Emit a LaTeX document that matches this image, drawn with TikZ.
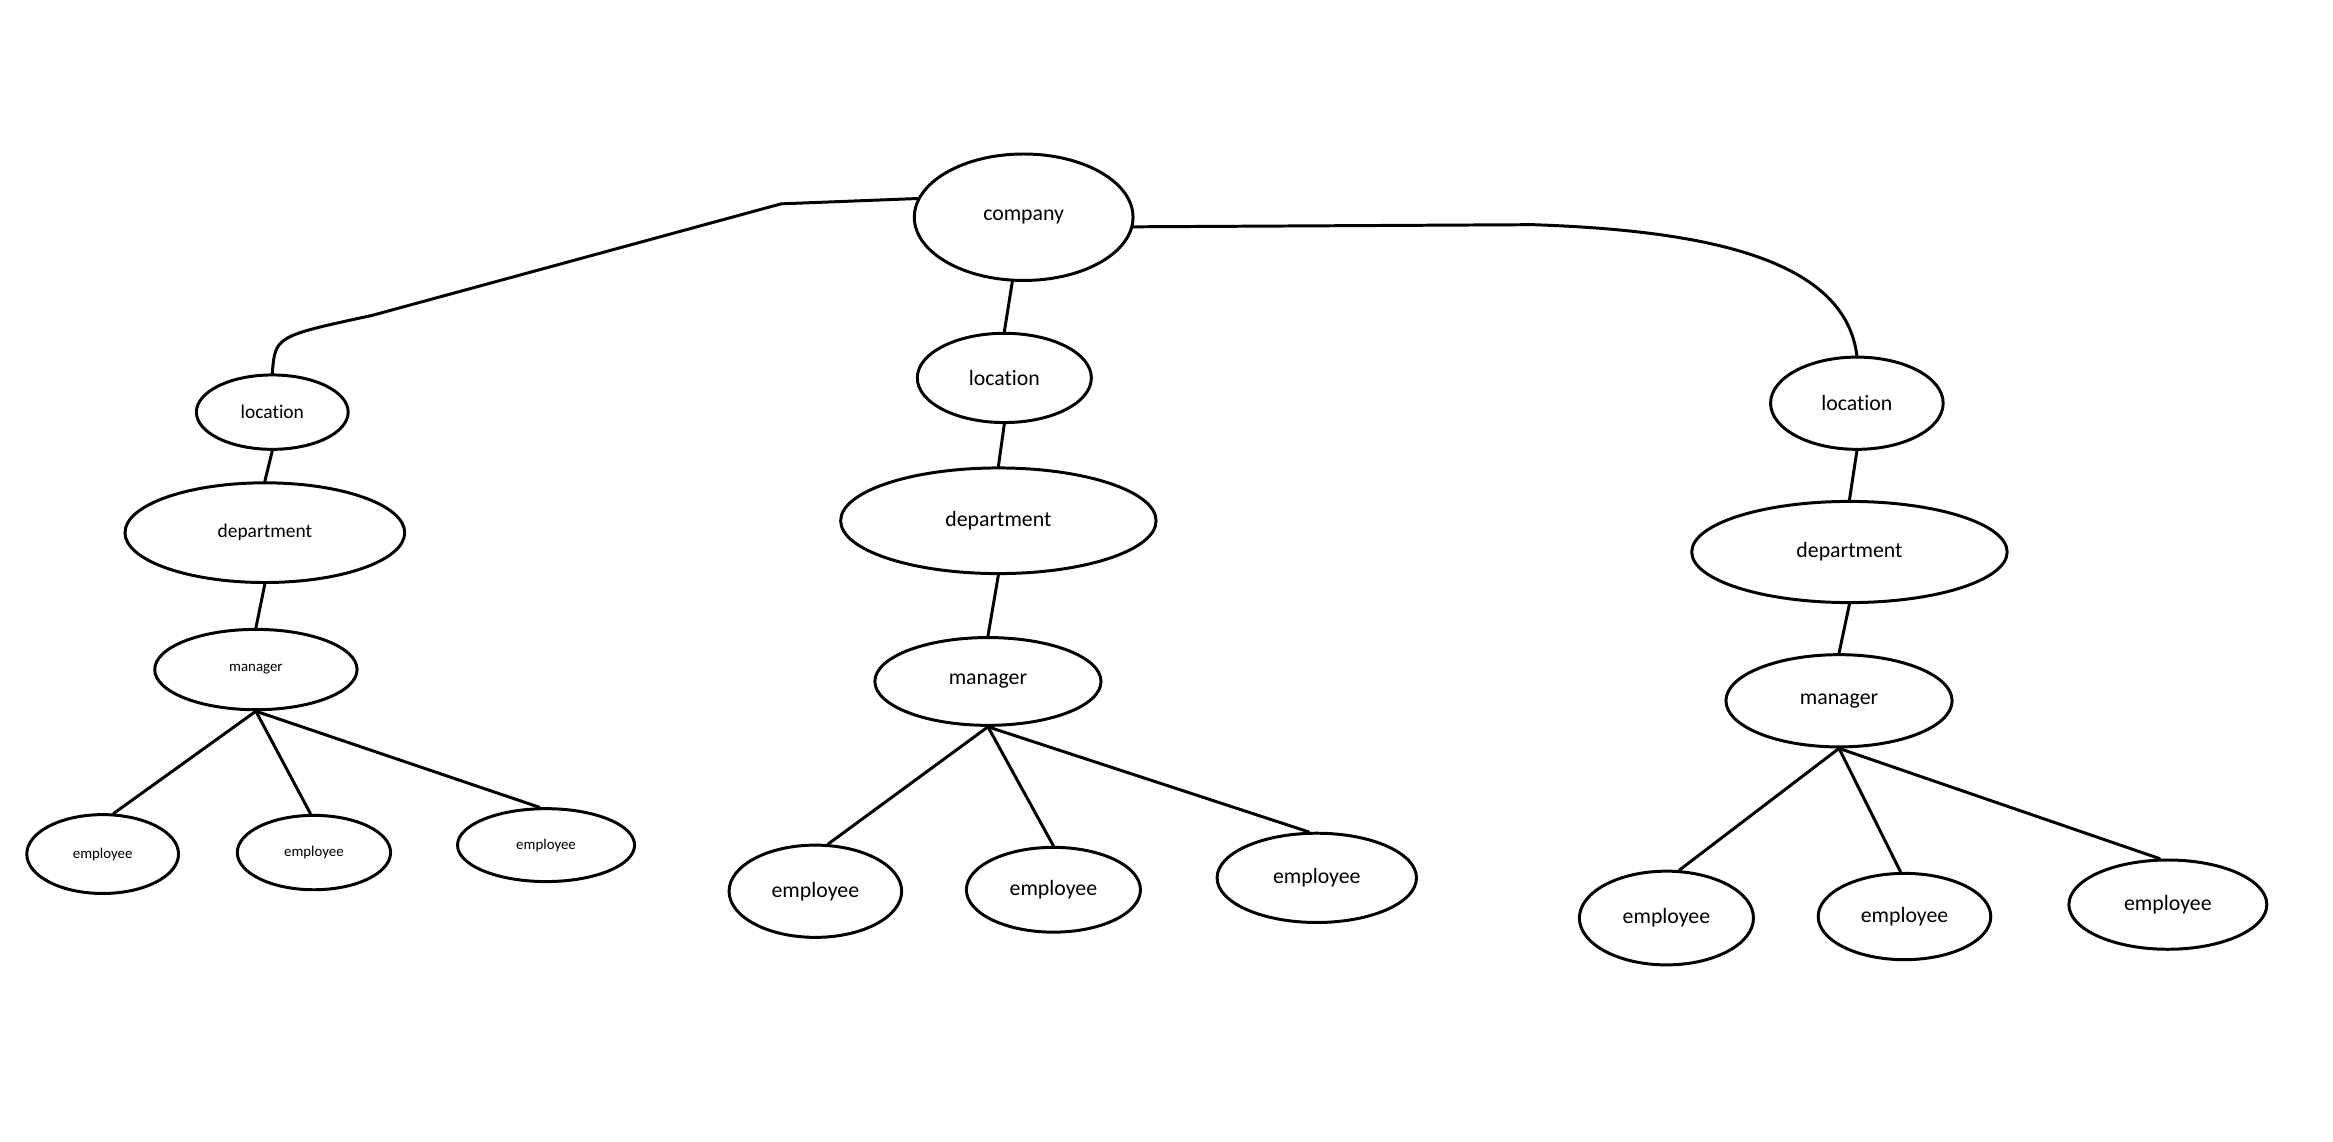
\documentclass[tikz,border=0pt]{standalone}
\usepackage{fontspec}
\setmainfont{Carlito}[Ligatures=NoCommon]
\usepackage{tikz}
\usetikzlibrary{shapes.geometric}

\begin{document}
\begin{tikzpicture}[x=0.75pt,y=0.75pt,yscale=-1,xscale=1,
  blob/.style={ellipse, draw, line width=1.5pt, inner sep=0pt},
  link/.style={line width=1.5pt, line cap=round, line join=round},
  bigtext/.style={font=\fontsize{11}{13}\selectfont},
  midtext/.style={font=\fontsize{9.8}{12}\selectfont},
  smalltext/.style={font=\fontsize{7.5}{9}\selectfont}]
%set diagram left start at 0, and has height of 767
\useasboundingbox (0,0) rectangle (1568,767);

% Text Node
\node[blob, bigtext, minimum width=110.25pt, minimum height=63.75pt] (comp) at (688,146) {company};
% Text Node
\node[blob, midtext, minimum width=76.5pt, minimum height=37.5pt] (locL) at (183,277) {location};
% Text Node
\node[blob, midtext, minimum width=141pt, minimum height=50.25pt] (depL) at (178,358) {department};
% Text Node
\node[blob, smalltext, minimum width=102pt, minimum height=40.5pt] (manL) at (172,450) {manager};
% Text Node
\node[blob, smalltext, minimum width=76.5pt, minimum height=39.75pt] (empLa) at (69,574) {employee};
% Text Node
\node[blob, smalltext, minimum width=77.25pt, minimum height=37.5pt] (empLb) at (211,573) {employee};
% Text Node
\node[blob, smalltext, minimum width=89.25pt, minimum height=36.75pt] (empLc) at (367,568) {employee};
% Text Node
\node[blob, bigtext, minimum width=87.75pt, minimum height=45pt] (locM) at (675,254) {location};
% Text Node
\node[blob, bigtext, minimum width=159pt, minimum height=53.25pt] (depM) at (671,350) {department};
% Text Node
\node[blob, bigtext, minimum width=114pt, minimum height=44.25pt] (manM) at (664,458) {manager};
% Text Node
\node[blob, bigtext, minimum width=87pt, minimum height=46.5pt] (empMa) at (548,599) {employee};
% Text Node
\node[blob, bigtext, minimum width=87.75pt, minimum height=42.75pt] (empMb) at (708,598) {employee};
% Text Node
\node[blob, bigtext, minimum width=100.5pt, minimum height=45pt] (empMc) at (885,590) {employee};
% Text Node
\node[blob, bigtext, minimum width=87pt, minimum height=46.5pt] (locR) at (1248,271) {location};
% Text Node
\node[blob, bigtext, minimum width=159pt, minimum height=51pt] (depR) at (1243,371) {department};
% Text Node
\node[blob, bigtext, minimum width=114pt, minimum height=46.5pt] (manR) at (1236,471) {manager};
% Text Node
\node[blob, bigtext, minimum width=87.75pt, minimum height=47.25pt] (empRa) at (1120,617) {employee};
% Text Node
\node[blob, bigtext, minimum width=87pt, minimum height=43.5pt] (empRb) at (1280,616) {employee};
% Text Node
\node[blob, bigtext, minimum width=99.75pt, minimum height=45pt] (empRc) at (1457,608) {employee};

% Connection
\draw[link] (comp.170) -- (525,137) -- (250,212) .. controls (185,226) .. (locL.north);
% Connection
\draw[link] (comp.-5) -- (1030,151) .. controls (1150,155) and (1240,175) .. (locR.north);
% Connection
\draw[link] (comp.260) -- (locM.north);

% Connection
\draw[link] (locL.south) -- (depL.north);
% Connection
\draw[link] (depL.south) -- (manL.north);
% Connection
\draw[link] (manL.south) -- (empLa.75);
% Connection
\draw[link] (manL.south) -- (empLb.95);
% Connection
\draw[link] (manL.south) -- (empLc.100);

% Connection
\draw[link] (locM.south) -- (depM.north);
% Connection
\draw[link] (depM.south) -- (manM.north);
% Connection
\draw[link] (manM.south) -- (empMa.75);
% Connection
\draw[link] (manM.south) -- (empMb.north);
% Connection
\draw[link] (manM.south) -- (empMc.100);

% Connection
\draw[link] (locR.south) -- (depR.north);
% Connection
\draw[link] (depR.south) -- (manR.north);
% Connection
\draw[link] (manR.south) -- (empRa.75);
% Connection
\draw[link] (manR.south) -- (empRb.95);
% Connection
\draw[link] (manR.south) -- (empRc.100);

\end{tikzpicture}
\end{document}
